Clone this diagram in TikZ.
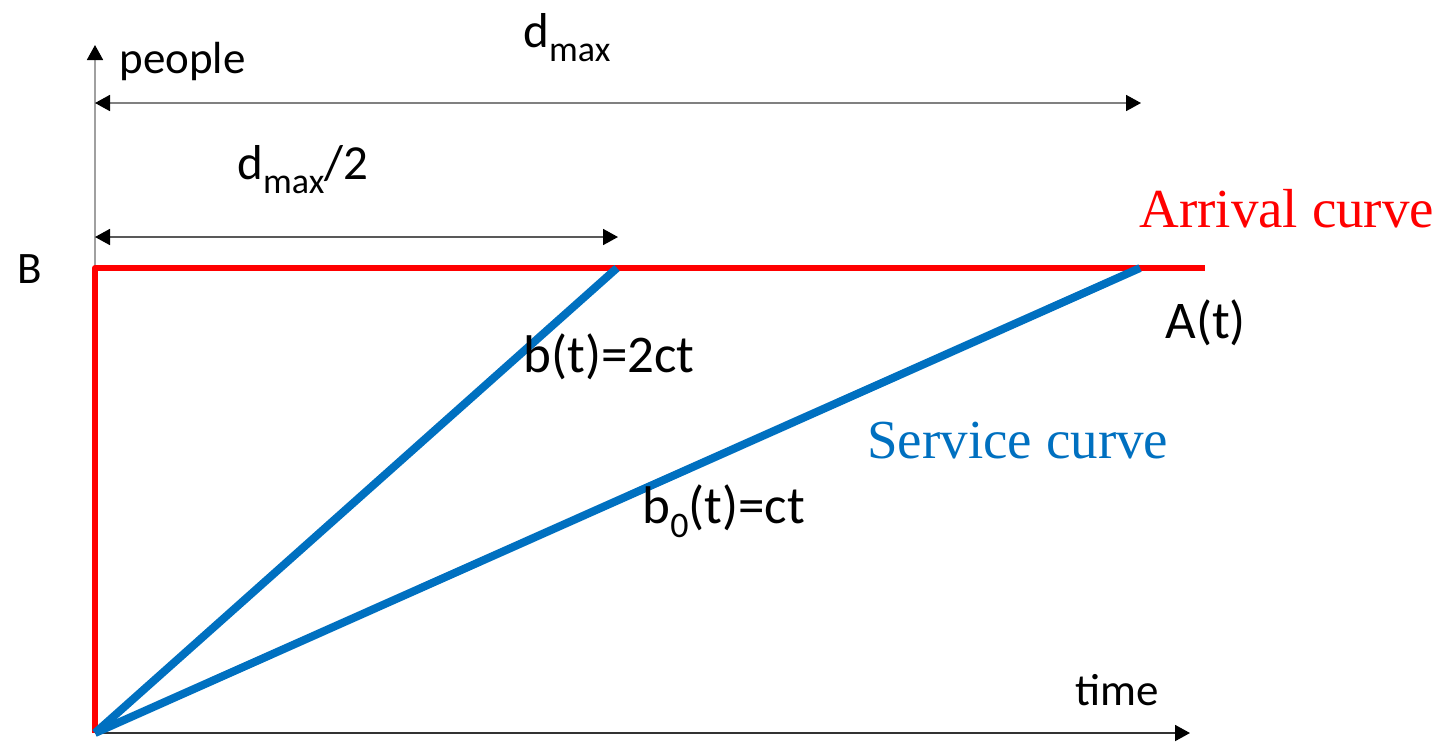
\documentclass[tikz,border=0pt]{standalone}
\usepackage{fontspec}
\setmainfont{Carlito}
\newfontfamily\seriffam{Liberation Serif}
\usetikzlibrary{arrows.meta}
\definecolor{bluec}{HTML}{0070C0}
\definecolor{axisgray}{HTML}{A0A0A0}
\definecolor{dimgray}{HTML}{808080}
\newcommand{\lbl}{\fontsize{22.5pt}{26pt}\selectfont}
\newcommand{\lblm}{\fontsize{24.5pt}{28pt}\selectfont}
\newcommand{\lblb}{\fontsize{26.5pt}{30pt}\selectfont}
\newcommand{\sbs}[1]{\raisebox{-7pt}{\fontsize{18pt}{20pt}\selectfont #1}}
\tikzset{
  tip/.style={-{Triangle[length=7.5pt,width=8pt,color=black]}},
  dtip/.style={{Triangle[length=7.5pt,width=8pt,color=black]}-{Triangle[length=7.5pt,width=8pt,color=black]}},
  txt/.style={anchor=base west,inner sep=0pt,font=\lbl},
  stxt/.style={anchor=base west,inner sep=0pt,font=\fontsize{27.5pt}{31pt}\seriffam},
  arrival/.style={draw=red,line width=3pt,line join=round},
  service/.style={draw=bluec,line width=4pt},
}
\begin{document}
\begin{tikzpicture}[x=0.5pt,y=-0.5pt]
\useasboundingbox (0,0) rectangle (1438,741);
\coordinate (O) at (95,733);
\coordinate (ytop) at (95,45);
\coordinate (xend) at (1190,733);
\coordinate (Btop) at (95,268);
\coordinate (aend) at (1205,268);
\coordinate (half) at (617,268);
\coordinate (full) at (1140,268);
\coordinate (d1l) at (95,103);
\coordinate (d1r) at (1141,103);
\coordinate (d2l) at (95,237);
\coordinate (d2r) at (618,237);
% axes
\draw[axisgray,line width=0.9pt,tip] (O) -- (ytop);
\draw[black!80,line width=0.9pt,tip] (O) -- (xend);
% dimension lines
\draw[dimgray,line width=0.9pt,dtip] (d1l) -- (d1r);
\draw[black!65,line width=0.9pt,dtip] (d2l) -- (d2r);
% curves
\draw[arrival] (O) -- (Btop) -- (aend);
\draw[service] (O) -- (half);
\draw[service] (O) -- (full);
% labels
\node[txt] (people) at (119,73) {people};
\node[txt,font=\lblm] (dmax) at (523,47) {d\sbs{max}};
\node[txt,font=\lblm] (dhalf) at (237,179) {d\sbs{max}/2};
\node[txt] (B) at (17,283) {B};
\node[txt,font=\lblb] (At) at (1165,338) {A(t)};
\node[txt,font=\lblb] (bt) at (523,372) {b(t)=2ct};
\node[txt,font=\lblb] (b0t) at (642,523) {b\sbs{0}(t)=ct};
\node[txt] (time) at (1075,705) {time};
\node[stxt,text=red] (arr) at (1139,227) {Arrival curve};
\node[stxt,text=bluec] (serv) at (867,458) {Service curve};
\end{tikzpicture}
\end{document}
